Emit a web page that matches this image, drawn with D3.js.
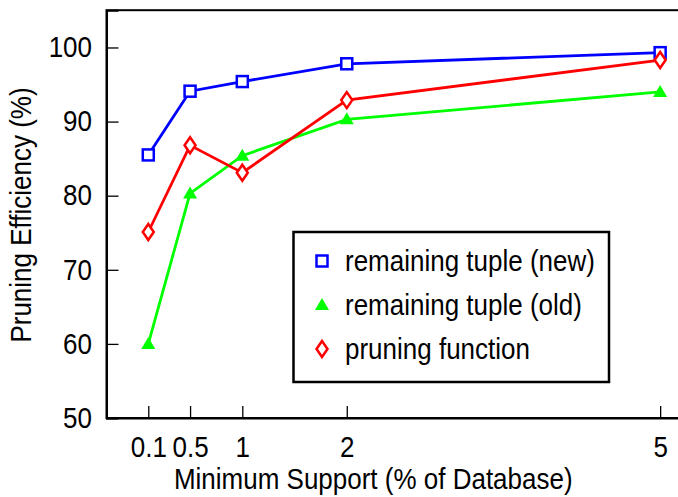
<!DOCTYPE html>
<html>
<head>
<meta charset="utf-8">
<script src="https://cdn.jsdelivr.net/npm/d3@7"></script>
<style>
  body { margin: 0; background: #fff; }
  text { font-family: "Liberation Sans", Arial, sans-serif; }
</style>
</head>
<body>
<svg id="chart" width="678" height="497"></svg>
<script>
// valeurs
var support = [0.1, 0.5, 1, 2, 5];
var tupleNew = [85.5, 94.1, 95.4, 97.8, 99.3];
var tupleOld = [60.0, 80.3, 85.4, 90.3, 94.0];
var pruningFn = [75.1, 86.8, 83.1, 92.9, 98.3];
var yTicks = [50, 60, 70, 80, 90, 100];
var legendLabels = ["remaining tuple (new)", "remaining tuple (old)", "pruning function"];

var svg = d3.select("#chart");
var gauche = 106.5, droite = 680, haut = 10.2, bas = 418;
var etire = "scale(1,1.11)";  // la police de la figure est un peu plus haute

var x = d3.scaleLinear().domain([-0.3, 5.19]).range([gauche, droite]);
var y = d3.scaleLinear().domain([50, 105.03]).range([bas, haut]);

// cadre
svg.append("rect")
  .attr("x", gauche).attr("y", haut)
  .attr("width", droite - gauche).attr("height", bas - haut)
  .attr("fill", "none").attr("stroke", "#000").attr("stroke-width", 2);

var axeY = svg.append("g")
  .attr("transform", "translate(" + gauche + ",0)")
  .call(d3.axisLeft(y).tickValues(yTicks).tickSize(-12).tickPadding(14.5));
var axeX = svg.append("g")
  .attr("transform", "translate(0," + bas + ")")
  .call(d3.axisBottom(x).tickValues(support).tickFormat(d => String(d)).tickSize(-12).tickPadding(17));

for (var g of [axeX, axeY]) {
  g.select(".domain").attr("stroke", "#000").attr("stroke-width", 2);
  g.selectAll(".tick line").attr("stroke", "#000").attr("stroke-width", 1.3);
  g.selectAll(".tick text").attr("font-size", 26).attr("fill", "#000")
    .attr("transform", etire)
    .style("font-family", '"Liberation Sans", Arial, sans-serif');
}

svg.append("text")
  .attr("transform", "translate(" + ((gauche + 660) / 2 - 10) + ",489) " + etire)
  .attr("text-anchor", "middle").attr("font-size", 26)
  .text("Minimum Support (% of Database)");
svg.append("text")
  .attr("transform", "translate(31,215) rotate(-90) " + etire)
  .attr("text-anchor", "middle").attr("font-size", 26)
  .text("Pruning Efficiency (%)");

var series = [
  {vals: tupleNew, color: "#0000ff", shape: "square"},
  {vals: tupleOld, color: "#00ff00", shape: "triangle"},
  {vals: pruningFn, color: "#ff0000", shape: "diamond"}
];

function marqueur(sel, shape, color) {
  if (shape == "square")
    sel.append("rect").attr("x", -5.5).attr("y", -5.5).attr("width", 11).attr("height", 11)
      .attr("fill", "#fff").attr("stroke", color).attr("stroke-width", 2.5);
  else if (shape == "triangle")
    sel.append("path").attr("d", "M0,-7 L7,5 L-7,5 Z").attr("fill", color);
  else
    sel.append("path").attr("d", "M0,-8 L5.5,0 L0,8 L-5.5,0 Z")
      .attr("fill", "#fff").attr("stroke", color).attr("stroke-width", 2.5);
}

var ligne = d3.line().x((d, i) => x(support[i])).y(d => y(d));

for (var s of series) {
  svg.append("path").attr("d", ligne(s.vals))
    .attr("fill", "none").attr("stroke", s.color).attr("stroke-width", 2.8);
}
for (var s of series) {
  s.vals.forEach(function(v, i) {
    var m = svg.append("g").attr("transform", "translate(" + x(support[i]) + "," + y(v) + ")");
    marqueur(m, s.shape, s.color);
  });
}

// légende
svg.append("rect").attr("x", 293.5).attr("y", 232).attr("width", 315.5).attr("height", 150)
  .attr("fill", "#fff").attr("stroke", "#000").attr("stroke-width", 2.5);
series.forEach(function(s, i) {
  var cy = 261 + i * 44;
  var m = svg.append("g").attr("transform", "translate(322," + cy + ")");
  marqueur(m, s.shape, s.color);
  svg.append("text").attr("transform", "translate(345," + (cy + 9.5) + ") " + etire)
    .attr("font-size", 26)
    .text(legendLabels[i]);
});
</script>
</body>
</html>
